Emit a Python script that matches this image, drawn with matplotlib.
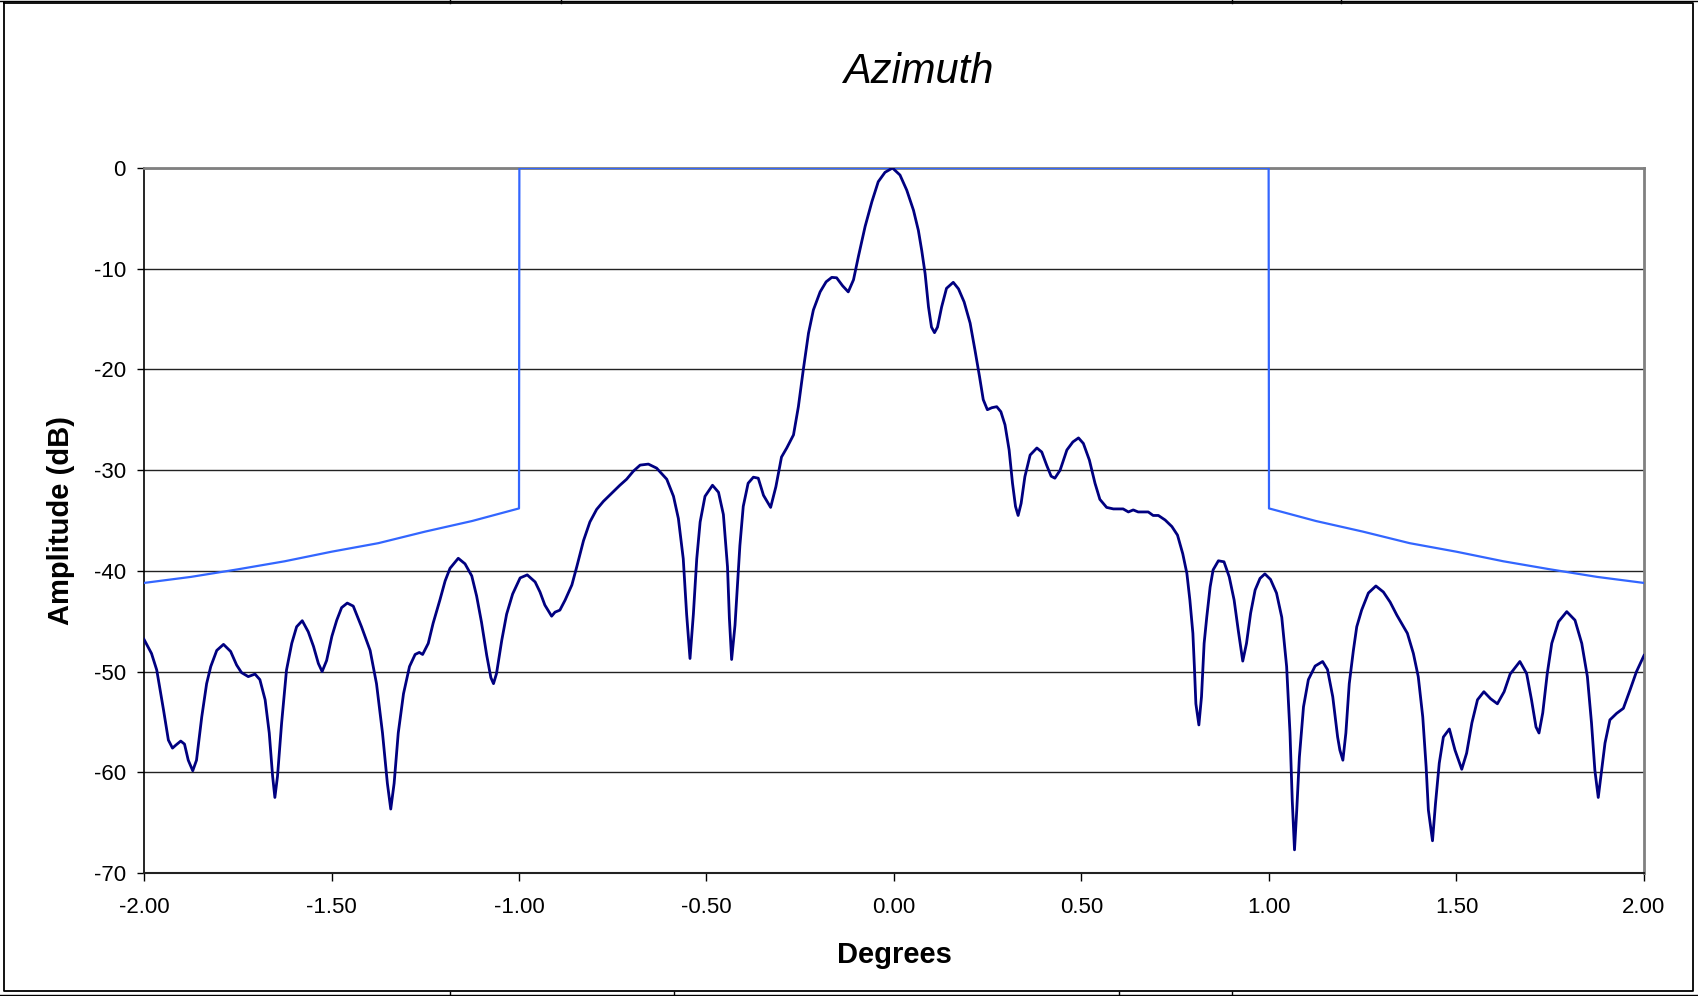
import matplotlib.pyplot as plt
from matplotlib.lines import Line2D

plt.rcParams['font.family'] = ['Liberation Sans', 'DejaVu Sans']
plt.rcParams['axes.unicode_minus'] = False

# measured azimuth pattern (degrees, dB)
deg = [-2.000, -1.980, -1.966, -1.948, -1.935, -1.924, -1.915, -1.902, -1.892, -1.882,
       -1.870, -1.860, -1.846, -1.833, -1.822, -1.806, -1.788, -1.769, -1.753, -1.740,
       -1.722, -1.704, -1.691, -1.677, -1.666, -1.657, -1.651, -1.644, -1.633, -1.620,
       -1.606, -1.593, -1.578, -1.562, -1.548, -1.535, -1.525, -1.513, -1.499, -1.486,
       -1.473, -1.458, -1.442, -1.420, -1.397, -1.380, -1.364, -1.351, -1.342, -1.333,
       -1.322, -1.308, -1.292, -1.277, -1.266, -1.257, -1.242, -1.229, -1.211, -1.197,
       -1.184, -1.162, -1.144, -1.126, -1.113, -1.100, -1.086, -1.075, -1.068, -1.060,
       -1.046, -1.033, -1.017, -0.997, -0.978, -0.957, -0.944, -0.931, -0.913, -0.904,
       -0.891, -0.877, -0.859, -0.846, -0.828, -0.811, -0.793, -0.775, -0.753, -0.731,
       -0.713, -0.695, -0.677, -0.655, -0.633, -0.606, -0.588, -0.575, -0.562, -0.553,
       -0.544, -0.535, -0.526, -0.517, -0.504, -0.484, -0.468, -0.455, -0.444, -0.439,
       -0.433, -0.424, -0.411, -0.402, -0.389, -0.375, -0.362, -0.348, -0.329, -0.315,
       -0.300, -0.286, -0.268, -0.255, -0.242, -0.228, -0.215, -0.197, -0.181, -0.166,
       -0.153, -0.137, -0.122, -0.108, -0.095, -0.077, -0.059, -0.042, -0.024, -0.004,
       0.016, 0.034, 0.052, 0.065, 0.074, 0.083, 0.092, 0.100, 0.108, 0.116,
       0.127, 0.140, 0.158, 0.172, 0.187, 0.203, 0.216, 0.228, 0.238, 0.249,
       0.261, 0.274, 0.285, 0.296, 0.307, 0.316, 0.324, 0.331, 0.339, 0.349,
       0.363, 0.381, 0.394, 0.407, 0.419, 0.429, 0.443, 0.461, 0.477, 0.492,
       0.505, 0.521, 0.536, 0.549, 0.567, 0.585, 0.611, 0.625, 0.638, 0.651,
       0.678, 0.691, 0.705, 0.723, 0.741, 0.756, 0.770, 0.781, 0.789, 0.797,
       0.801, 0.805, 0.813, 0.820, 0.827, 0.834, 0.843, 0.851, 0.865, 0.880,
       0.894, 0.907, 0.918, 0.930, 0.940, 0.951, 0.963, 0.976, 0.989, 1.004,
       1.020, 1.034, 1.047, 1.056, 1.062, 1.068, 1.074, 1.081, 1.092, 1.105,
       1.123, 1.143, 1.156, 1.170, 1.183, 1.189, 1.197, 1.205, 1.214, 1.225,
       1.234, 1.247, 1.265, 1.285, 1.305, 1.323, 1.341, 1.369, 1.385, 1.398,
       1.410, 1.419, 1.425, 1.436, 1.444, 1.454, 1.465, 1.481, 1.496, 1.514,
       1.527, 1.541, 1.556, 1.573, 1.591, 1.609, 1.627, 1.643, 1.669, 1.687,
       1.700, 1.712, 1.720, 1.730, 1.742, 1.754, 1.772, 1.794, 1.816, 1.834,
       1.849, 1.860, 1.869, 1.878, 1.887, 1.896, 1.909, 1.927, 1.945, 1.963,
       1.980, 2.000]
amp = [-46.8, -48.2, -49.85, -53.8, -56.8, -57.6, -57.3, -56.9, -57.2, -58.8,
       -59.85, -58.8, -54.5, -51.2, -49.5, -47.9, -47.3, -48.0, -49.35, -50.1,
       -50.5, -50.25, -50.8, -52.8, -56.1, -60.4, -62.5, -60.4, -55.1, -49.85,
       -47.2, -45.55, -44.95, -46.05, -47.5, -49.2, -50.0, -48.9, -46.5, -44.9,
       -43.65, -43.2, -43.5, -45.55, -47.9, -51.2, -56.1, -61.1, -63.65, -61.1,
       -56.1, -52.2, -49.5, -48.3, -48.1, -48.3, -47.2, -45.2, -42.9, -41.0,
       -39.75, -38.75, -39.3, -40.5, -42.5, -45.1, -48.4, -50.6, -51.2, -50.2,
       -46.9, -44.3, -42.3, -40.7, -40.4, -41.1, -42.1, -43.4, -44.5, -44.1,
       -43.9, -42.9, -41.4, -39.6, -37.0, -35.15, -33.9, -33.1, -32.3, -31.5,
       -30.9, -30.1, -29.5, -29.4, -29.8, -30.9, -32.6, -34.8, -38.8, -44.3,
       -48.7, -44.3, -38.8, -35.15, -32.6, -31.5, -32.2, -34.4, -39.6, -44.7,
       -48.8, -45.4, -37.5, -33.6, -31.3, -30.7, -30.8, -32.5, -33.7, -31.65,
       -28.7, -27.8, -26.5, -23.7, -20.06, -16.4, -14.1, -12.3, -11.3, -10.86,
       -10.9, -11.7, -12.3, -11.1, -8.8, -5.8, -3.35, -1.36, -0.43, 0.0,
       -0.7, -2.2, -4.2, -6.2, -8.2, -10.5, -13.8, -15.8, -16.35, -15.8,
       -13.8, -11.95, -11.35, -12.0, -13.3, -15.4, -18.1, -20.7, -23.0, -24.0,
       -23.8, -23.7, -24.2, -25.5, -28.0, -31.3, -33.6, -34.5, -33.3, -30.65,
       -28.5, -27.8, -28.2, -29.5, -30.6, -30.8, -30.0, -28.0, -27.2, -26.8,
       -27.35, -29.0, -31.3, -32.9, -33.7, -33.85, -33.85, -34.15, -33.95, -34.15,
       -34.15, -34.5, -34.5, -34.95, -35.6, -36.45, -38.3, -40.25, -42.9, -46.2,
       -49.5, -53.2, -55.3, -52.5, -47.2, -44.6, -41.6, -39.9, -39.0, -39.1,
       -40.6, -42.9, -45.9, -48.96, -47.2, -44.2, -41.9, -40.75, -40.3, -40.85,
       -42.2, -44.6, -49.5, -56.1, -62.8, -67.7, -63.75, -58.5, -53.5, -50.8,
       -49.45, -49.0, -49.8, -52.5, -56.5, -57.8, -58.8, -56.1, -51.2, -47.9,
       -45.55, -43.9, -42.2, -41.5, -42.1, -43.1, -44.4, -46.2, -48.2, -50.5,
       -54.5, -59.45, -63.75, -66.8, -63.1, -59.1, -56.5, -55.7, -57.8, -59.7,
       -58.1, -55.1, -52.8, -52.0, -52.7, -53.2, -52.0, -50.25, -49.0, -50.2,
       -52.8, -55.5, -56.1, -54.1, -50.2, -47.2, -45.05, -44.05, -44.9, -47.2,
       -50.5, -55.1, -59.8, -62.5, -59.8, -57.1, -54.8, -54.15, -53.65, -51.8,
       -50.0, -48.4]

# spec mask
mask_deg = [-2.0, -1.875, -1.75, -1.625, -1.5, -1.375, -1.25, -1.125, -1.0, -0.999,
            0.999, 1.0, 1.125, 1.25, 1.375, 1.5, 1.625, 1.75, 1.875, 2.0]
mask_db = [-41.2, -40.6, -39.85, -39.05, -38.1, -37.25, -36.1, -35.05, -33.8, 0.0,
           0.0, -33.8, -35.05, -36.1, -37.25, -38.1, -39.05, -39.85, -40.6, -41.2]

xticks = [-2.0, -1.5, -1.0, -0.5, 0.0, 0.5, 1.0, 1.5, 2.0]
yticks = [0, -10, -20, -30, -40, -50, -60, -70]

W, H = 1699, 996
fig = plt.figure(figsize=(W / 100, H / 100), dpi=100)
ax = fig.add_axes([144 / W, 1 - 873 / H, 1500 / W, 705 / H])

ax.plot(mask_deg, mask_db, color='#3366ff', lw=1.6, zorder=3)
ax.plot(deg, amp, color='#000080', lw=2.0, zorder=4, solid_joinstyle='round')

ax.set_xlim(-2, 2)
ax.set_ylim(-70, 0)
ax.set_xticks(xticks)
ax.set_xticklabels(['%.2f' % v for v in xticks])
ax.set_yticks(yticks)
ax.set_yticklabels([str(v) for v in yticks])
ax.yaxis.grid(True, color='#222222', lw=1.0)
ax.set_axisbelow(True)

ax.tick_params(axis='x', direction='out', length=6, width=1, pad=11, labelsize=16)
ax.tick_params(axis='y', direction='out', length=5, width=1, pad=8, labelsize=16)

for side in ['top', 'right']:
    ax.spines[side].set_color('#808080')
    ax.spines[side].set_linewidth(2)
ax.spines['left'].set_color('black')
ax.spines['bottom'].set_color('#222222')
ax.spines['left'].set_linewidth(1.2)
ax.spines['bottom'].set_linewidth(1.5)

fig.text(918 / W, 1 - 83 / H, 'Azimuth', ha='center', va='baseline',
         fontsize=30, style='italic')
fig.text(894 / W, 1 - 963 / H, 'Degrees', ha='center', va='baseline',
         fontsize=21, weight='bold')
fig.text(61 / W, 1 - 520 / H, 'Amplitude (dB)', ha='center', va='center',
         rotation=90, fontsize=21, weight='bold')

# chart border and sheet cell lines around it
def px_line(xs, ys, lw):
    fig.add_artist(Line2D([x / W for x in xs], [1 - y / H for y in ys],
                          color='black', lw=lw, transform=fig.transFigure))

px_line([4, 1693, 1693, 4, 4], [3, 3, 991, 991, 3], 1.3)
px_line([0, W], [1, 1], 1.0)
px_line([0, W], [994.5, 994.5], 1.0)
for x in [450, 561, 1232, 1341]:
    px_line([x, x], [0, 3], 1.0)
for x in [450, 674, 1119, 1232]:
    px_line([x, x], [992, 996], 1.0)

fig.savefig('out.png', dpi=100)
